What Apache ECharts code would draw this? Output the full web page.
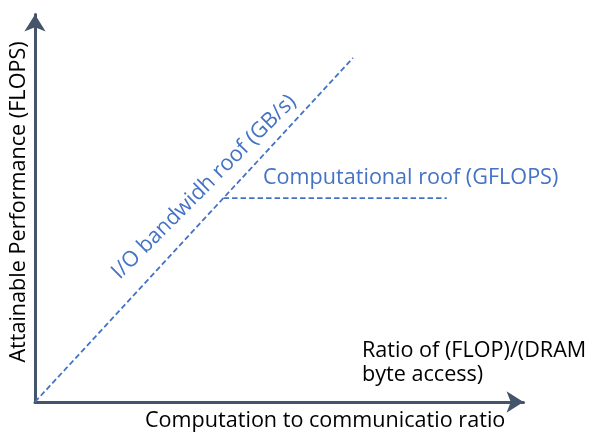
<!DOCTYPE html>
<html>
<head>
<meta charset="utf-8">
<script src="https://cdn.jsdelivr.net/npm/echarts@6/dist/echarts.min.js"></script>
<style>
  html, body { margin: 0; padding: 0; background: #fff; }
  #chart { width: 593px; height: 436px; }
</style>
</head>
<body>
<div id="chart"></div>
<script>
// roofline sketch, no real units on the axes
var bandwidthRoof = [[0, 0], [65.1, 88.8]];
var computeRoof = [[38.6, 52.6], [84.3, 52.6]];

var xAxisName = "Computation to communicatio ratio";
var yAxisName = "Attainable Performance (FLOPS)";
var ratioText = ["Ratio of (FLOP)/(DRAM", "byte access)"];
var bandwidthText = "I/O bandwidh roof (GB/s)";
var computeText = "Computational roof (GFLOPS)";

var azul = "#4472C4";
var ejes = "#44546A";
var fuente = "21.6px 'Open Sans'";

var dom = document.getElementById("chart");
var myChart = echarts.init(dom, null, { renderer: "canvas" });

var ejeBase = {
  type: "value",
  min: 0,
  max: 100,
  splitLine: { show: false },
  axisTick: { show: false },
  axisLabel: { show: false },
  axisLine: {
    show: true,
    symbol: ["none", "arrow"],
    symbolSize: [16, 17],
    lineStyle: { color: ejes, width: 3 },
  },
};

var option = {
  animation: false,
  backgroundColor: "#fff",
  grid: { left: 35, right: 69.5, top: 14.5, bottom: 34 },
  xAxis: Object.assign({}, ejeBase),
  yAxis: Object.assign({}, ejeBase),
  series: [
    {
      name: "bandwidth",
      type: "line",
      data: bandwidthRoof,
      symbol: "none",
      lineStyle: { color: azul, width: 1.8, type: [5.5, 3] },
      z: 1,
    },
    {
      name: "compute",
      type: "line",
      data: computeRoof,
      symbol: "none",
      lineStyle: { color: azul, width: 1.8, type: [5.5, 3] },
      z: 1,
    },
  ],
  graphic: [
    {
      type: "text",
      x: 19,
      y: 202,
      rotation: Math.PI / 2,
      style: { text: yAxisName, font: fuente, fill: "#000", align: "center", verticalAlign: "middle" },
    },
    {
      type: "text",
      x: 145,
      y: 421,
      style: { text: xAxisName, font: fuente, fill: "#000", align: "left", verticalAlign: "middle" },
    },
    {
      type: "text",
      x: 362,
      y: 338,
      style: { text: ratioText.join("\n"), font: fuente, lineHeight: 24.8, fill: "#000", align: "left", verticalAlign: "top" },
    },
    {
      type: "text",
      x: 204,
      y: 187,
      rotation: Math.PI / 4,
      style: { text: bandwidthText, font: fuente, fill: azul, align: "center", verticalAlign: "middle" },
    },
    {
      type: "text",
      x: 263,
      y: 178,
      style: { text: computeText, font: fuente, fill: azul, align: "left", verticalAlign: "middle" },
    },
  ],
};

myChart.setOption(option);
window.addEventListener("resize", myChart.resize);
</script>
</body>
</html>
